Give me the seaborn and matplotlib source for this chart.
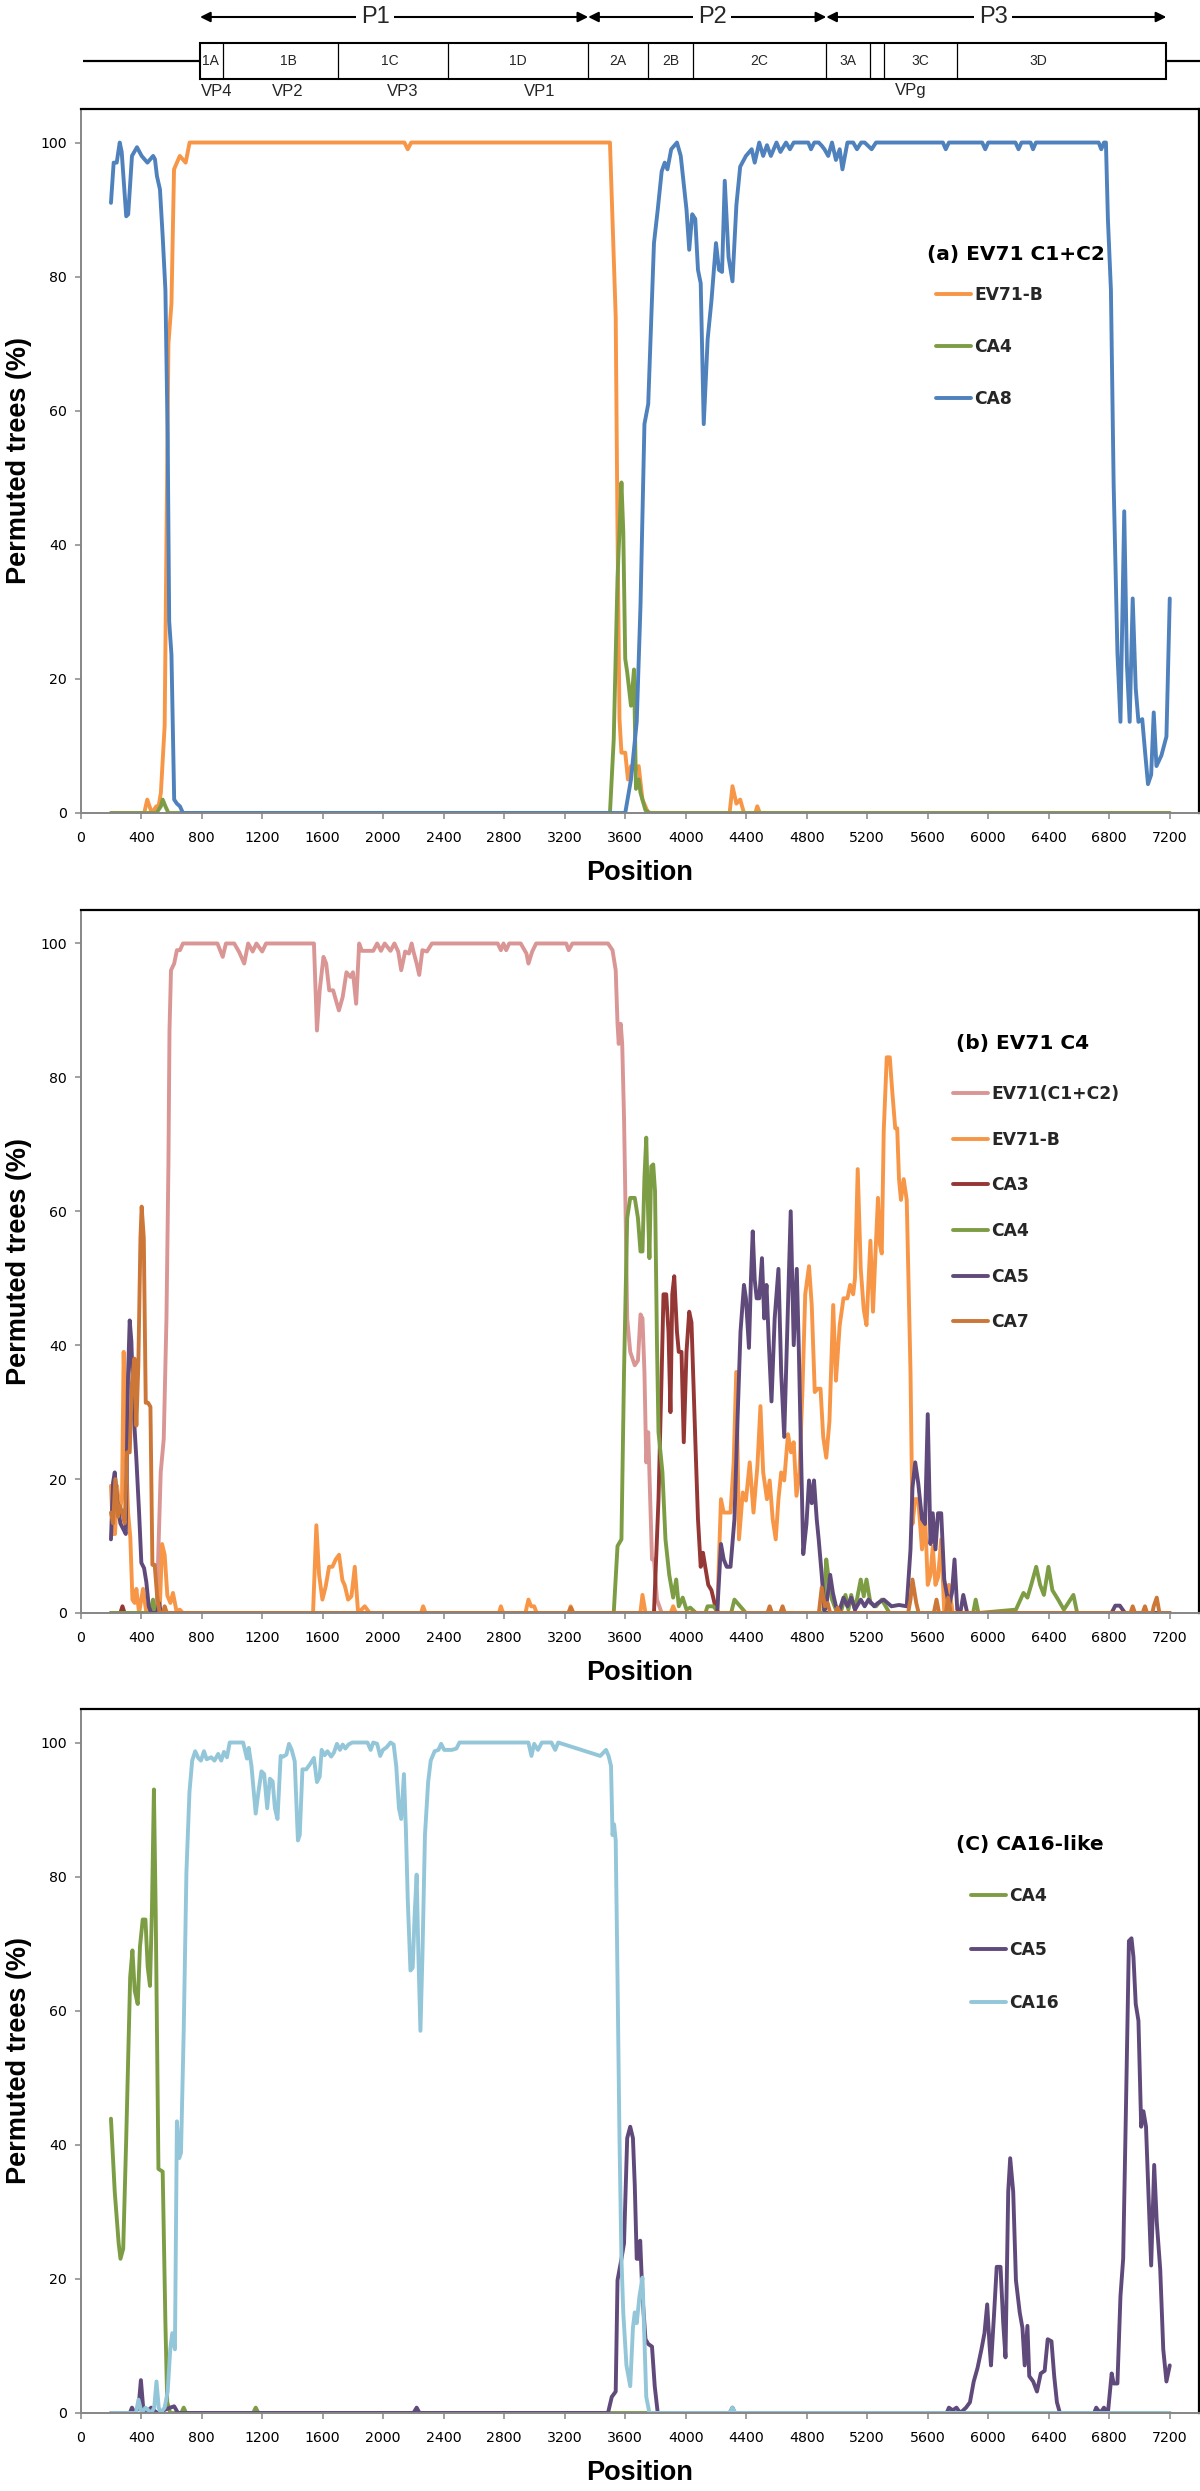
import matplotlib
matplotlib.use("Agg")
import matplotlib.pyplot as plt
import pandas as pd
import seaborn as sns
from matplotlib.lines import Line2D
from matplotlib.patches import Rectangle

# ---------------- genome map ----------------
seg_edges = [789, 941, 1702, 2430, 3355, 3752, 4050, 4929, 5220, 5312, 5795, 7177]
seg_labels = ['1A', '1B', '1C', '1D', '2A', '2B', '2C', '3A', '3C', '3D']
seg_label_pos = [861, 1371, 2045, 2891, 3553, 3903, 4485, 5073, 5549, 6329]
vp_labels = ['VP4', 'VP2', 'VP3', 'VP1', 'VPg']
vp_pos = [898, 1369, 2131, 3033, 5487]
poly_labels = ['P1', 'P2', 'P3']
poly_bounds = [(789, 3355), (3355, 4929), (4929, 7177)]
poly_text_pos = [1946, 4174, 6032]

# ---------------- panel (a) ----------------
a_evb_x = [200, 420, 440, 470, 500, 515, 530, 555, 580, 600,
           617, 655, 694, 720, 2140, 2162, 2185, 3499, 3537, 3549,
           3562, 3575, 3600, 3618, 3638, 3663, 3689, 3714, 3752, 4290,
           4309, 4335, 4360, 4385, 4460, 4473, 4490, 7200]
a_evb_y = [0, 0, 2, 0, 1, 1, 3, 13, 70, 76,
           96, 98, 97, 100, 100, 99, 100, 100, 74, 42,
           14, 9, 9, 5, 7, 6.4, 7, 2, 0, 0,
           4, 1.4, 2, 0, 0, 1, 0, 0]
a_ca4_x = [200, 500, 530, 542, 560, 580, 3499, 3524, 3549, 3575,
           3587, 3600, 3613, 3638, 3658, 3671, 3689, 3701, 3734, 3765,
           7200]
a_ca4_y = [0, 0, 1, 2, 1, 0, 0, 11, 35, 49.3,
           42, 23, 21, 16, 21.4, 3.6, 5, 3, 0.4, 0,
           0]
a_ca8_x = [200, 218, 238, 258, 271, 301, 314, 339, 372, 403,
           441, 479, 491, 504, 524, 542, 560, 575, 585, 600,
           618, 636, 656, 676, 3600, 3638, 3676, 3701, 3727, 3752,
           3790, 3815, 3841, 3861, 3879, 3904, 3942, 3967, 4005, 4023,
           4043, 4063, 4081, 4099, 4119, 4145, 4170, 4200, 4220, 4240,
           4258, 4283, 4309, 4335, 4360, 4398, 4436, 4456, 4486, 4512,
           4537, 4563, 4600, 4626, 4663, 4689, 4714, 4810, 4828, 4850,
           4879, 4900, 4917, 4942, 4967, 4993, 5018, 5036, 5069, 5107,
           5132, 5160, 5183, 5229, 5258, 5700, 5719, 5740, 5960, 5980,
           6000, 6180, 6200, 6220, 6280, 6296, 6315, 6730, 6747, 6765,
           6778, 6791, 6811, 6829, 6854, 6874, 6899, 6917, 6935, 6955,
           6975, 6993, 7018, 7036, 7056, 7077, 7094, 7112, 7145, 7178,
           7200]
a_ca8_y = [91, 97, 97, 100, 98.6, 89, 89.3, 98, 99.3, 98,
           97, 98, 97.5, 95, 93, 86, 78, 56, 28.6, 23.6,
           2, 1.4, 1, 0, 0, 5, 13.6, 31, 58, 61,
           85, 90, 95.7, 97, 96, 99, 100, 98, 90, 84,
           89.3, 88.6, 81, 79, 58, 70.7, 76.4, 85, 81, 80.7,
           94.3, 82.9, 79.3, 90.7, 96.4, 98, 99, 97, 100, 98,
           99.6, 98, 100, 98.6, 100, 99, 100, 100, 99, 100,
           100, 99.5, 99, 98, 100, 97.4, 99, 96, 100, 100,
           99, 100, 100, 99, 100, 100, 99, 100, 100, 99,
           100, 100, 99, 100, 100, 99, 100, 100, 99, 100,
           100, 88.6, 78, 49, 24, 13.6, 45, 22, 13.6, 32,
           18.6, 13.6, 14, 9.3, 4.3, 5.7, 15, 7, 8.6, 11.4,
           32]

# ---------------- panel (b) ----------------
b_c12_x = [200, 478, 504, 529, 549, 567, 580, 587, 597, 618,
           636, 656, 676, 904, 939, 960, 1015, 1048, 1081, 1107,
           1137, 1162, 1200, 1225, 1542, 1562, 1580, 1605, 1623, 1643,
           1669, 1694, 1707, 1732, 1757, 1783, 1800, 1821, 1841, 1859,
           1897, 1934, 1960, 1985, 2010, 2048, 2074, 2099, 2119, 2145,
           2170, 2188, 2200, 2221, 2238, 2259, 2289, 2322, 2757, 2778,
           2795, 2813, 2833, 2909, 2947, 2960, 2985, 3011, 3210, 3226,
           3251, 3486, 3516, 3537, 3549, 3557, 3570, 3580, 3592, 3603,
           3613, 3633, 3663, 3684, 3701, 3714, 3727, 3739, 3752, 3765,
           3777, 3790, 3810, 3841, 7200]
b_c12_y = [0, 0, 2, 21, 26, 44, 67, 87, 96, 97,
           99, 99, 100, 100, 98, 100, 100, 98.7, 97, 100,
           98.8, 100, 98.8, 100, 100, 87, 93, 98, 97, 93,
           93, 91, 90, 92, 95.7, 95, 95.7, 91, 100, 98.9,
           98.9, 98.9, 100, 98.9, 100, 98.9, 100, 98.8, 96, 98.8,
           98.5, 100, 98.8, 97, 95.3, 99, 98.8, 100, 100, 99,
           100, 99, 100, 100, 98.5, 97, 98.8, 100, 100, 99,
           100, 100, 99, 96, 88, 85, 88, 85, 74, 59,
           44, 39, 37, 37.7, 44.6, 44, 36, 22.5, 27, 17,
           8, 8, 2, 0, 0]
b_evb_x = [200, 214, 227, 240, 258, 273, 284, 298, 313, 328,
           342, 357, 368, 386, 412, 434, 456, 522, 538, 555,
           573, 593, 610, 633, 655, 676, 1536, 1558, 1576, 1598,
           1620, 1642, 1664, 1686, 1708, 1730, 1746, 1768, 1790, 1812,
           1834, 1878, 1911, 2250, 2264, 2280, 2765, 2778, 2792, 2940,
           2960, 2978, 2998, 3015, 3225, 3239, 3255, 3700, 3714, 3734,
           3900, 3917, 3935, 4208, 4233, 4251, 4271, 4296, 4317, 4334,
           4352, 4377, 4398, 4423, 4448, 4474, 4494, 4512, 4537, 4555,
           4575, 4595, 4613, 4631, 4651, 4676, 4696, 4714, 4732, 4752,
           4772, 4790, 4815, 4833, 4853, 4873, 4891, 4909, 4929, 4950,
           4975, 4993, 5018, 5043, 5069, 5087, 5107, 5119, 5137, 5157,
           5177, 5195, 5221, 5238, 5253, 5271, 5284, 5296, 5309, 5329,
           5349, 5365, 5385, 5398, 5410, 5423, 5441, 5461, 5486, 5499,
           5517, 5537, 5562, 5582, 5600, 5618, 5633, 5651, 5668, 5689,
           5709, 5740, 5765, 7200]
b_evb_y = [19, 11.8, 11.8, 19, 15.4, 17, 39, 25, 15, 11.3,
           2, 1.5, 3.6, 0, 3.6, 0, 1, 0, 10.3, 8.7,
           2.6, 1.5, 3, 0.3, 0.5, 0, 0, 13.1, 5.7, 2,
           4, 6.9, 6.9, 8, 8.7, 4.9, 4.1, 2, 2.5, 6.9,
           0, 1, 0, 0, 1, 0, 0, 1, 0, 0,
           2, 1, 1, 0, 0, 1, 0, 0, 2.7, 0,
           0, 1, 0, 0, 17, 15, 15, 15, 22.5, 36,
           11, 18, 16.8, 22.5, 15, 22, 30.9, 21, 17, 19.8,
           14, 11, 17, 21, 19.8, 26.7, 24, 25.5, 17.5, 21,
           33.5, 47.6, 51.8, 46, 33, 33.5, 33.5, 26.3, 23.2, 28.6,
           46, 34.7, 43, 47, 47, 49, 47.6, 50, 66.3, 51.4,
           45.3, 43, 55.6, 45, 53, 62, 55, 53.7, 72, 83,
           83, 78, 72.4, 72.4, 64.8, 61.7, 64.8, 61.7, 36, 13.3,
           17, 17, 9.5, 14.9, 4.2, 5.7, 9.9, 4.2, 5.3, 11,
           0, 4.2, 0, 0]
b_ca3_x = [200, 262, 276, 290, 3790, 3820, 3841, 3853, 3871, 3886,
           3899, 3911, 3924, 3942, 3954, 3972, 3987, 4005, 4023, 4038,
           4063, 4081, 4099, 4114, 4129, 4149, 4170, 4190, 4208, 7200]
b_ca3_y = [0, 0, 1, 0, 0, 17, 36, 47.6, 47.6, 42,
           30, 47.6, 50.3, 42, 39, 39, 25.5, 39, 45, 43.4,
           26, 14, 6.9, 9, 6.9, 4.2, 3.4, 1.5, 0, 0]
b_ca4_x = [200, 460, 478, 495, 3524, 3549, 3575, 3592, 3613, 3633,
           3663, 3684, 3701, 3714, 3727, 3739, 3752, 3760, 3772, 3785,
           3797, 3810, 3820, 3846, 3866, 3891, 3917, 3937, 3954, 3980,
           4005, 4030, 4068, 4130, 4144, 4182, 4220, 4300, 4322, 4360,
           4398, 4910, 4929, 4942, 4967, 4993, 5030, 5056, 5075, 5094,
           5119, 5157, 5177, 5195, 5221, 5258, 5296, 5347, 5900, 5917,
           5935, 6183, 6233, 6259, 6284, 6317, 6343, 6368, 6398, 6424,
           6462, 6500, 6563, 6588, 7200]
b_ca4_y = [0, 0, 2, 0, 0, 10, 11, 36, 59, 62,
           62, 59, 54, 54, 65, 71, 59, 53, 66.7, 67,
           63, 40, 27, 21, 11, 5.7, 2.3, 5, 1, 2.3,
           0.5, 0.8, 0, 0, 1, 1, 0, 0, 2, 1,
           0, 0, 8, 5.7, 2, 0.5, 0.5, 2.7, 0.5, 2.7,
           0.5, 5, 2.5, 5, 1.5, 1, 2, 0, 0, 2,
           0, 0.5, 3, 2.3, 4.2, 6.9, 4.2, 2.7, 6.9, 3.4,
           2, 0.5, 2.7, 0, 0]
b_ca5_x = [200, 214, 225, 240, 262, 280, 298, 313, 324, 335,
           350, 368, 386, 401, 419, 434, 450, 467, 505, 518,
           530, 4208, 4233, 4251, 4271, 4296, 4322, 4342, 4362, 4385,
           4398, 4418, 4431, 4443, 4456, 4469, 4486, 4504, 4519, 4534,
           4550, 4567, 4588, 4613, 4631, 4651, 4671, 4694, 4714, 4734,
           4747, 4765, 4777, 4798, 4815, 4833, 4848, 4866, 4879, 4899,
           4917, 4929, 4955, 4973, 4993, 5018, 5043, 5069, 5094, 5119,
           5157, 5183, 5208, 5246, 5271, 5309, 5360, 5410, 5461, 5486,
           5499, 5517, 5537, 5562, 5582, 5600, 5618, 5633, 5651, 5668,
           5689, 5709, 5740, 5760, 5777, 5795, 5815, 5835, 5861, 6815,
           6840, 6870, 6904, 6920, 7200]
b_ca5_y = [11, 19.5, 21, 17, 13.4, 12.6, 11.8, 35.5, 43.7, 40.6,
           30, 23, 15, 7.5, 6.7, 4.6, 1, 0, 0, 1.5,
           0, 0, 10.3, 8, 6.9, 6.9, 14, 28.6, 42, 49,
           47, 39.6, 49.8, 57, 49.8, 47, 47, 53, 44, 49,
           40, 31.6, 44, 51.4, 36, 26.3, 42, 60, 40, 51.4,
           40, 21, 8.8, 13.3, 19.8, 16.4, 19.8, 14, 11, 5.7,
           0.4, 1, 5.7, 3, 1, 0.5, 2.3, 1, 2.3, 0.5,
           2, 1, 2, 1, 1.5, 2, 1, 1.2, 1, 9.5,
           18.7, 22.5, 19.4, 14, 13.3, 29.7, 10.3, 14.9, 9.5, 14.9,
           14.9, 5, 1.1, 3, 8, 0.5, 0, 2.7, 0, 0,
           1.1, 1.1, 0, 0, 0]
b_ca7_x = [200, 214, 229, 247, 258, 276, 291, 306, 324, 339,
           355, 368, 381, 395, 403, 417, 430, 445, 461, 474,
           489, 505, 522, 545, 555, 570, 3225, 3241, 3257, 4540,
           4555, 4570, 4625, 4640, 4655, 4880, 4899, 4920, 4938, 4955,
           4990, 5004, 5020, 5470, 5486, 5499, 5524, 5540, 5640, 5658,
           5675, 5720, 5735, 5752, 6940, 6955, 6970, 7020, 7036, 7050,
           7085, 7094, 7114, 7132, 7200]
b_ca7_y = [15, 13.4, 20, 14.4, 16, 15, 13.4, 24, 24, 34.4,
           38, 28, 37, 56, 60.7, 56, 31.4, 31.4, 30.8, 7.2,
           7.2, 2.6, 0, 0, 1, 0, 0, 0.8, 0, 0,
           1, 0, 0, 1, 0, 0, 3.8, 1, 1.5, 0,
           0, 0.8, 0, 0, 2, 5, 1.5, 0, 0, 2,
           0, 0, 2.3, 0, 0, 1, 0, 0, 1, 0,
           0, 1, 2.3, 0, 0]

# ---------------- panel (c) ----------------
c_ca4_x = [200, 225, 251, 263, 281, 301, 327, 342, 357, 377,
           392, 410, 428, 443, 458, 471, 484, 496, 514, 542,
           560, 572, 592, 665, 681, 697, 1140, 1157, 1175, 7200]
c_ca4_y = [43.9, 33, 25.3, 23, 24.5, 41, 65, 69, 63, 61,
           69.6, 73.6, 73.6, 66.5, 63.7, 75, 93, 74.4, 36.4, 36,
           13.4, 1.6, 0, 0, 0.8, 0, 0, 0.8, 0, 0]
c_ca5_x = [200, 325, 339, 357, 382, 398, 413, 428, 466, 504,
           592, 618, 643, 2200, 2221, 2240, 3486, 3511, 3537, 3549,
           3575, 3592, 3613, 3633, 3651, 3663, 3676, 3689, 3699, 3714,
           3734, 3752, 3777, 3795, 3815, 4290, 4309, 4325, 5725, 5740,
           5765, 5790, 5815, 5853, 5879, 5904, 5929, 5955, 5975, 5993,
           6008, 6018, 6038, 6056, 6081, 6099, 6114, 6132, 6145, 6165,
           6183, 6208, 6226, 6241, 6259, 6271, 6297, 6322, 6347, 6373,
           6393, 6418, 6436, 6454, 6474, 6700, 6714, 6740, 6765, 6791,
           6816, 6829, 6854, 6874, 6892, 6910, 6930, 6947, 6960, 6975,
           6993, 7011, 7026, 7043, 7061, 7077, 7097, 7114, 7137, 7157,
           7178, 7200]
c_ca5_y = [0, 0, 0.8, 0, 0.8, 4.9, 0.8, 0, 0.8, 0,
           0.8, 1, 0, 0, 0.8, 0, 0, 2.4, 3.2, 19.8,
           23, 25.3, 41, 42.7, 41, 34, 23, 23, 25.7, 17.4,
           11, 10.3, 9.9, 4, 0, 0, 0.8, 0, 0, 0.8,
           0.4, 0.8, 0, 0.8, 1.6, 4.7, 6.7, 9.5, 11.9, 16.2,
           10.3, 7.1, 14.6, 21.8, 21.8, 13.4, 8.3, 33, 38, 33,
           19.8, 15, 12.7, 7.1, 13, 5.5, 4.7, 3.2, 5.9, 6.3,
           11, 10.7, 5.5, 1.6, 0, 0, 0.8, 0, 0.8, 0,
           5.9, 4.4, 4.4, 17.4, 23, 45, 70.4, 70.8, 68, 61,
           58.5, 42.7, 45, 42.7, 31.6, 22, 37, 28.5, 21.4, 9.5,
           4.7, 7.1]
c_ca16_x = [200, 365, 382, 403, 428, 466, 486, 501, 516, 529,
            555, 575, 592, 605, 623, 636, 651, 663, 681, 699,
            719, 737, 757, 777, 795, 815, 833, 863, 884, 909,
            929, 947, 967, 985, 1074, 1099, 1111, 1129, 1157, 1175,
            1195, 1213, 1233, 1251, 1269, 1284, 1301, 1322, 1339, 1360,
            1377, 1395, 1415, 1436, 1448, 1466, 1491, 1517, 1542, 1562,
            1580, 1593, 1613, 1631, 1656, 1674, 1694, 1714, 1732, 1750,
            1770, 1795, 1896, 1917, 1934, 1960, 1980, 1998, 2023, 2048,
            2069, 2086, 2104, 2119, 2137, 2150, 2162, 2180, 2195, 2208,
            2221, 2233, 2246, 2259, 2276, 2297, 2314, 2340, 2365, 2383,
            2403, 2454, 2484, 2504, 2960, 2980, 2998, 3023, 3049, 3112,
            3137, 3157, 3435, 3473, 3490, 3506, 3516, 3526, 3537, 3549,
            3562, 3575, 3587, 3608, 3633, 3651, 3663, 3676, 3694, 3714,
            3727, 3739, 3760, 4290, 4309, 4328, 7200]
c_ca16_y = [0, 0, 2, 0, 0.8, 0, 0.8, 4.7, 0.8, 0,
            0.8, 3.2, 9.5, 11.9, 9.5, 43.5, 38, 38.8, 57, 80.7,
            92.6, 97.3, 98.7, 97.7, 97.3, 98.7, 97.5, 97.8, 97.3, 98.3,
            97.3, 98.6, 97.8, 100, 100, 97.6, 99.2, 96.5, 89.4, 92.6,
            95.7, 95.3, 90.2, 94.6, 94.2, 90.2, 88.6, 98, 97.9, 98.2,
            99.8, 98.9, 97.2, 85.4, 86.2, 96, 96, 96.8, 97.7, 94.1,
            94.9, 98.9, 98.1, 98.7, 97.9, 98.5, 99.8, 98.9, 99.7, 99.1,
            99.7, 100, 100, 98.9, 100, 99.8, 98, 98.9, 99.3, 100,
            99.7, 96.5, 90.2, 88.6, 95.3, 87, 76.7, 66, 66.4, 74.4,
            80.3, 68, 57, 68, 86.2, 94.1, 97.3, 98.7, 98.9, 99.8,
            98.9, 98.9, 99.1, 100, 100, 98, 99.8, 98.9, 100, 100,
            98.9, 100, 98, 98.9, 98, 96.5, 86.2, 87.8, 85.4, 64.9,
            41, 23, 15, 7.1, 4, 12.7, 15, 13.4, 17.4, 20.2,
            11, 2.4, 0, 0, 0.8, 0, 0]

x_ticks = list(range(0, 7201, 400))
y_ticks = list(range(0, 101, 20))

panel_titles = ['(a) EV71 C1+C2', '(b) EV71 C4', '(C) CA16-like']
panel_series = [
    [('EV71-B', a_evb_x, a_evb_y, '#F79646'),
     ('CA4', a_ca4_x, a_ca4_y, '#7D9D45'),
     ('CA8', a_ca8_x, a_ca8_y, '#4F81BD')],
    [('EV71(C1+C2)', b_c12_x, b_c12_y, '#D99694'),
     ('EV71-B', b_evb_x, b_evb_y, '#F79646'),
     ('CA3', b_ca3_x, b_ca3_y, '#953735'),
     ('CA4', b_ca4_x, b_ca4_y, '#7D9D45'),
     ('CA5', b_ca5_x, b_ca5_y, '#604A7B'),
     ('CA7', b_ca7_x, b_ca7_y, '#CC7637')],
    [('CA4', c_ca4_x, c_ca4_y, '#7D9D45'),
     ('CA5', c_ca5_x, c_ca5_y, '#604A7B'),
     ('CA16', c_ca16_x, c_ca16_y, '#93C6D9')],
]

# ---------------- layout (pixels) ----------------
W, H = 1200, 2491
LEFT, RIGHT = 80.7, 1198.5
XMAX = 7390
panel_px = [(109, 813), (910, 1613), (1709, 2413)]
title_pos = [(0.7568, 0.794), (0.7827, 0.8094), (0.7827, 0.8082)]
legend_anchor = [(0.7648, 0.7486), (0.7800, 0.7510), (0.7961, 0.7472)]
legend_spacing = [1.98, 1.62, 2.08]

sns.set_theme(style='white')
plt.rcParams['font.family'] = ['DejaVu Sans']
LAB_FONT = ['Liberation Sans', 'DejaVu Sans']

fig = plt.figure(figsize=(W / 100, H / 100), dpi=100)
fig.patch.set_facecolor('white')

AXIS_GRAY = '#868686'
LW = 2.8

for i, (top, bot) in enumerate(panel_px):
    ax = fig.add_axes([LEFT / W, 1 - bot / H, (RIGHT - LEFT) / W, (bot - top) / H])
    series = panel_series[i]
    frames = []
    for name, xs, ys, col in series:
        assert len(xs) == len(ys), (name, len(xs), len(ys))
        frames.append(pd.DataFrame({'Position': xs, 'Permuted': ys, 'series': name}))
    df = pd.concat(frames, ignore_index=True)
    names = [s[0] for s in series]
    cols = [s[3] for s in series]
    sns.lineplot(data=df, x='Position', y='Permuted', hue='series', hue_order=names,
                 palette=dict(zip(names, cols)), estimator=None, sort=False,
                 legend=False, linewidth=LW, ax=ax, solid_joinstyle='round',
                 solid_capstyle='round')
    ax.set_xlim(0, XMAX)
    ax.set_ylim(0, 105)
    ax.set_xticks(x_ticks)
    ax.set_yticks(y_ticks)
    ax.set_xticklabels([str(t) for t in x_ticks])
    ax.set_yticklabels([str(t) for t in y_ticks])
    for s in ['top', 'right']:
        ax.spines[s].set_color('black')
        ax.spines[s].set_linewidth(1.6)
    for s in ['left', 'bottom']:
        ax.spines[s].set_color(AXIS_GRAY)
        ax.spines[s].set_linewidth(1.4)
    ax.tick_params(axis='both', direction='out', length=4, width=1.1, color=AXIS_GRAY,
                   labelsize=10.2, labelcolor='black', bottom=True, left=True)
    ax.tick_params(axis='x', pad=9)
    ax.tick_params(axis='y', pad=6)
    ax.set_xlabel('Position', fontsize=19.5, fontweight='bold', family=LAB_FONT,
                  labelpad=11, color='black')
    ax.set_ylabel('Permuted trees (%)', fontsize=19.5, fontweight='bold', family=LAB_FONT,
                  labelpad=6, color='black')
    ax.grid(False)
    ax.set_facecolor('white')

    tx, ty = title_pos[i]
    ax.text(tx, ty, panel_titles[i], transform=ax.transAxes, fontsize=14.5,
            fontweight='bold', ha='left', va='center', color='black')
    handles = [Line2D([], [], color=c, lw=LW) for c in cols]
    ax.legend(handles, names, loc='upper left', bbox_to_anchor=legend_anchor[i],
              frameon=False, borderpad=0, borderaxespad=0, handlelength=2.05,
              handletextpad=0.2, labelspacing=legend_spacing[i],
              prop={'weight': 'bold', 'size': 12.3})

# ---------------- genome map axes ----------------
gax = fig.add_axes([LEFT / W, 1 - 109 / H, (RIGHT - LEFT) / W, 109 / H])
gax.set_xlim(0, XMAX)
gax.set_ylim(109, 0)
gax.axis('off')
gax.plot([13, seg_edges[0]], [61, 61], color='black', lw=1.6, solid_capstyle='butt')
gax.plot([seg_edges[-1], XMAX + 30], [61, 61], color='black', lw=1.6, clip_on=False,
         solid_capstyle='butt')
gax.add_patch(Rectangle((seg_edges[0], 43), seg_edges[-1] - seg_edges[0], 36,
                        fill=False, ec='black', lw=1.5))
for e in seg_edges[1:-1]:
    gax.plot([e, e], [43, 79], color='black', lw=0.9)
for lab, p in zip(seg_labels, seg_label_pos):
    gax.text(p, 61, lab, ha='center', va='center', fontsize=10, family=LAB_FONT)
for lab, p in zip(vp_labels, vp_pos):
    gax.text(p, 91, lab, ha='center', va='center', fontsize=12, family=LAB_FONT)
for lab, (a, b), p in zip(poly_labels, poly_bounds, poly_text_pos):
    gax.annotate('', xy=(a, 17), xytext=(b, 17),
                 arrowprops=dict(arrowstyle='<|-|>', color='black', lw=1.5,
                                 mutation_scale=15, shrinkA=0, shrinkB=0))
    gax.text(p, 17, lab, ha='center', va='center', fontsize=17, family=LAB_FONT,
             bbox=dict(facecolor='white', edgecolor='none', pad=3))

fig.savefig('out.png', dpi=100, facecolor='white')
